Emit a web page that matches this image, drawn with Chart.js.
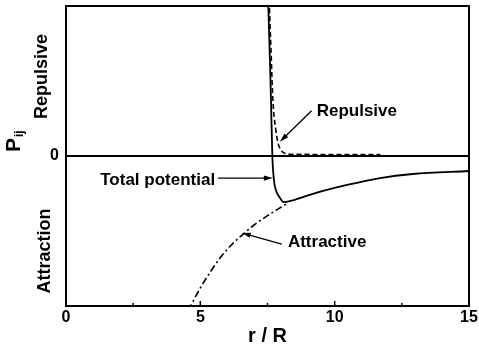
<!DOCTYPE html>
<html>
<head>
<meta charset="utf-8">
<script src="https://cdn.jsdelivr.net/npm/chart.js@4.4.0/dist/chart.umd.min.js"></script>
<style>
  body { margin: 0; background: #fff; }
  #wrap { width: 479px; height: 354px; }
</style>
</head>
<body>
<div id="wrap"><canvas id="potential" width="479" height="354"></canvas></div>
<script>
// r/R and P_ij for each curve
var totalR = [7.50, 7.53, 7.59, 7.63, 7.68, 7.74, 7.81, 7.96, 8.10, 8.40, 9.19, 10.46, 11.69, 12.91, 15.0];
var totalP = [1.20, 1.00, 0.64, 0.373, 0.0, -0.16, -0.227, -0.278, -0.308, -0.298, -0.252, -0.193, -0.147, -0.120, -0.100];

var repulsiveR = [7.54, 7.57, 7.63, 7.70, 7.81, 7.89, 8.00, 8.14, 8.50, 11.70];
var repulsiveP = [1.20, 1.00, 0.707, 0.373, 0.173, 0.087, 0.040, 0.018, 0.011, 0.010];

var attractiveR = [4.55, 5.00, 5.40, 5.80, 6.20, 6.60, 7.00, 7.50, 8.00, 8.25];
var attractiveP = [-1.03, -0.88, -0.765, -0.665, -0.585, -0.52, -0.46, -0.398, -0.342, -0.315];

var xTicks = [0, 5, 10, 15];
var xMinorTicks = [2.5, 7.5, 12.5];

// annotation labels: text, anchor (r, P), arrow tail and head in data units
var notes = [
	{ text: "Repulsive", align: "left", at: [9.33, 0.30], from: [9.14, 0.302], to: [7.96, 0.095] },
	{ text: "Total potential", align: "right", at: [5.55, -0.163], from: [5.66, -0.147], to: [7.70, -0.147] },
	{ text: "Attractive", align: "left", at: [8.26, -0.575], from: [8.03, -0.587], to: [6.54, -0.513] }
];

var FONT = "'Liberation Sans', Arial, sans-serif";

function toPoints(xs, ys) {
	var pts = [];
	for (var i = 0; i < xs.length; i++) {
		pts.push({ x: xs[i], y: ys[i] });
	}
	return pts;
}

function arrow(ctx, x1, y1, x2, y2) {
	var a = Math.atan2(y2 - y1, x2 - x1);
	var len = 9, half = 2.6;
	ctx.beginPath();
	ctx.moveTo(x1, y1);
	ctx.lineTo(x2 - Math.cos(a) * len * 0.8, y2 - Math.sin(a) * len * 0.8);
	ctx.stroke();
	ctx.beginPath();
	ctx.moveTo(x2, y2);
	ctx.lineTo(x2 - Math.cos(a) * len - Math.sin(a) * half, y2 - Math.sin(a) * len + Math.cos(a) * half);
	ctx.lineTo(x2 - Math.cos(a) * len + Math.sin(a) * half, y2 - Math.sin(a) * len - Math.cos(a) * half);
	ctx.closePath();
	ctx.fill();
}

// frame, inner ticks, side labels and arrows
var extras = {
	id: "extras",
	afterDraw: function(chart) {
		var ctx = chart.ctx;
		var area = chart.chartArea;
		var xs = chart.scales.x, ys = chart.scales.y;
		ctx.save();
		ctx.strokeStyle = "#000";
		ctx.fillStyle = "#000";

		// top and right edges of the box
		ctx.lineWidth = 2;
		ctx.beginPath();
		ctx.moveTo(area.left, area.top);
		ctx.lineTo(area.right, area.top);
		ctx.lineTo(area.right, area.bottom);
		ctx.stroke();

		// ticks pointing into the plot
		ctx.lineWidth = 1.5;
		xTicks.forEach(function(v) {
			var px = xs.getPixelForValue(v);
			ctx.beginPath();
			ctx.moveTo(px, area.bottom);
			ctx.lineTo(px, area.bottom - 5);
			ctx.stroke();
		});
		xMinorTicks.forEach(function(v) {
			var px = xs.getPixelForValue(v);
			ctx.beginPath();
			ctx.moveTo(px, area.bottom);
			ctx.lineTo(px, area.bottom - 3);
			ctx.stroke();
		});

		// rotated labels beside the y axis
		ctx.textAlign = "center";
		ctx.textBaseline = "middle";
		ctx.font = "bold 18px " + FONT;
		[["Repulsive", 0.53, 42], ["Attraction", -0.633, 45]].forEach(function(l) {
			ctx.save();
			ctx.translate(area.left - (66 - l[2]), ys.getPixelForValue(l[1]));
			ctx.rotate(-Math.PI / 2);
			ctx.fillText(l[0], 0, 0);
			ctx.restore();
		});

		// P_ij title
		ctx.save();
		ctx.translate(area.left - 52, ys.getPixelForValue(0.1));
		ctx.rotate(-Math.PI / 2);
		ctx.textAlign = "left";
		ctx.textBaseline = "alphabetic";
		ctx.font = "bold 21px " + FONT;
		var pw = ctx.measureText("P").width;
		ctx.fillText("P", -pw / 2 - 4, 6);
		ctx.font = "bold 12px " + FONT;
		ctx.fillText("ij", pw / 2 - 3, 9);
		ctx.restore();

		// curve annotations
		ctx.font = "bold 17px " + FONT;
		ctx.textBaseline = "middle";
		ctx.lineWidth = 1.3;
		notes.forEach(function(n) {
			ctx.textAlign = n.align;
			ctx.fillText(n.text, xs.getPixelForValue(n.at[0]), ys.getPixelForValue(n.at[1]));
			arrow(ctx,
				xs.getPixelForValue(n.from[0]), ys.getPixelForValue(n.from[1]),
				xs.getPixelForValue(n.to[0]), ys.getPixelForValue(n.to[1]));
		});
		ctx.restore();
	}
};

var ctx = document.getElementById("potential").getContext("2d");

var data = {
	datasets: [
		{
			label: "Total potential",
			data: toPoints(totalR, totalP),
			borderColor: "#000",
			borderWidth: 1.8,
			pointRadius: 0,
			fill: false,
			cubicInterpolationMode: "monotone"
		},
		{
			label: "Repulsive",
			data: toPoints(repulsiveR, repulsiveP),
			borderColor: "#000",
			borderWidth: 1.6,
			borderDash: [5, 3],
			pointRadius: 0,
			fill: false,
			cubicInterpolationMode: "monotone"
		},
		{
			label: "Attractive",
			data: toPoints(attractiveR, attractiveP),
			borderColor: "#000",
			borderWidth: 1.6,
			borderDash: [7, 3, 2, 3],
			pointRadius: 0,
			fill: false,
			cubicInterpolationMode: "monotone"
		}
	]
};

var options = {
	responsive: false,
	animation: false,
	layout: { padding: { top: 6, right: 10, left: 0, bottom: 0 } },
	plugins: {
		legend: { display: false },
		tooltip: { enabled: false }
	},
	scales: {
		x: {
			type: "linear",
			min: 0,
			max: 15,
			afterBuildTicks: function(scale) {
				scale.ticks = xTicks.map(function(v) { return { value: v }; });
			},
			afterFit: function(scale) {
				scale.height = 48;
				scale.paddingLeft = 0;
				scale.paddingRight = 0;
			},
			ticks: {
				color: "#000",
				font: { family: FONT, size: 16, weight: "bold" },
				padding: 2,
				maxRotation: 0
			},
			grid: { display: false, drawTicks: false },
			border: { color: "#000", width: 2 },
			title: {
				display: true,
				text: "r / R",
				color: "#000",
				font: { family: FONT, size: 20, weight: "bold" },
				padding: { top: 0, bottom: 6 }
			}
		},
		y: {
			type: "linear",
			min: -1,
			max: 1,
			afterBuildTicks: function(scale) {
				scale.ticks = [{ value: 0 }];
			},
			afterFit: function(scale) {
				scale.width = 66;
				scale.paddingTop = 0;
				scale.paddingBottom = 0;
			},
			ticks: {
				color: "#000",
				font: { family: FONT, size: 16, weight: "bold" },
				padding: 7
			},
			grid: { color: "#000", lineWidth: 2, drawTicks: false },
			border: { color: "#000", width: 2 }
		}
	}
};

var chart = new Chart(ctx, {
	type: "line",
	data: data,
	options: options,
	plugins: [extras]
});
</script>
</body>
</html>
